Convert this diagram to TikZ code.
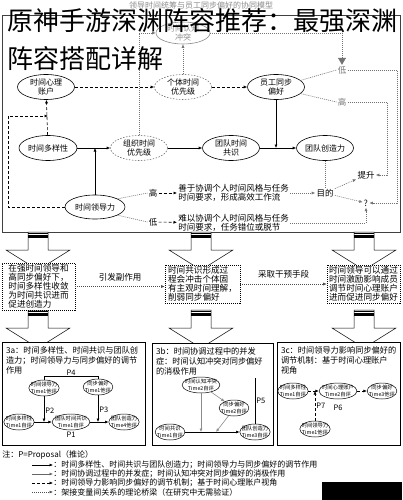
\documentclass[tikz,border=0pt]{standalone}
\usepackage{fontspec}
\setmainfont{Noto Sans CJK SC}
\usetikzlibrary{shapes.geometric,arrows.meta,positioning,calc}

\tikzset{
  ell/.style={ellipse, draw, line width=0.6pt, minimum width=57pt, minimum height=25pt,
    inner xsep=0pt, inner ysep=-1pt, align=center, font=\fontsize{8}{9.5}\selectfont},
  dell/.style={ell, draw=black!55, dash pattern=on 1.5pt off 1.5pt},
  sell/.style={ellipse, draw, line width=0.5pt, minimum height=16pt, inner xsep=-2.5pt,
    inner ysep=-1.5pt, align=center, font=\fontsize{5.3}{6.2}\selectfont},
  lab/.style={font=\fontsize{8.5}{9.5}\selectfont, inner sep=1pt},
  lab2/.style={font=\fontsize{7.5}{8}\selectfont, inner sep=1pt},
  lab3/.style={font=\fontsize{8}{9}\selectfont, inner sep=0pt},
  dotline/.style={draw=black!55, dash pattern=on 1pt off 1pt, line width=0.6pt},
  dashline/.style={dash pattern=on 3pt off 2pt, line width=0.6pt},
  arr/.style={-{Latex[length=3.5pt,width=3pt]}},
  stepbox/.style={draw, fill=white, dash pattern=on 1pt off 1pt, line width=0.6pt, align=left,
    font=\fontsize{8.6}{9}\selectfont, inner xsep=1.5pt, inner ysep=1pt},
  panel/.style={draw, fill=white, line width=0.6pt},
  ptext/.style={font=\fontsize{8.2}{9.7}\selectfont, align=left, inner xsep=4pt, inner ysep=5pt},
  ttl/.style={font=\fontsize{26}{26}\selectfont, inner sep=0pt},
}

\begin{document}
\begin{tikzpicture}[x=1pt,y=-1pt,line width=0.6pt]
    \useasboundingbox (0,0) rectangle (402,500);

    % 模型标题
    \node[font=\fontsize{8}{9}\selectfont, text=black!45] (subt) at (201,5) {领导时间统筹与员工同步偏好的协同模型};

    % 上部框
    \draw[draw=black!75] (2,15) rectangle (400,232);

    % 上部节点
    \node[ell, draw=black!45, text=black!45, minimum width=54pt, minimum height=22pt] (conf) at (183,33) {时间认知\\冲突};
    \node[ell] (acct) at (46,87) {时间心理\\账户};
    \node[dell] (indiv) at (183,87) {个体时间\\优先级};
    \node[ell] (sync) at (276,87) {员工同步\\偏好};
    \node[ell, minimum width=58pt] (div) at (48,148) {时间多样性};
    \node[dell] (org) at (139,148) {组织时间\\优先级};
    \node[ell] (cons) at (231,148) {团队时间\\共识};
    \node[ell] (crea) at (325,148) {团队创造力};
    \node[ell, minimum width=60pt, minimum height=24pt] (lead) at (95,207) {时间领导力};

    \node[lab] (hi) at (153,193) {高};
    \node[lab] (lo) at (153,222) {低};
    \node[lab, align=left, anchor=west] (hitxt) at (177,193) {善于协调个人时间风格与任务\\时间要求，形成高效工作流};
    \node[lab, align=left, anchor=west] (lotxt) at (177,223) {难以协调个人时间风格与任务\\时间要求，任务错位或脱节};
    \node[lab] (goal) at (325,193) {目的};
    \node[lab] (up) at (366,175) {提升};
    \node[lab] (q) at (366,203) {?};
    \node[lab, text=black!55] (lowA) at (342,70) {低};
    \node[lab, text=black!55] (highA) at (342,102) {高};

    % 上部连线
    \draw[dashline, arr] (acct) -- (indiv);
    \draw[dashline, arr] (indiv) -- (sync);
    \draw[dotline, arr] (indiv) -- (conf);
    \draw[dotline, arr] (org.north) |- (conf.west);
    \draw[dotline, -{Triangle[length=7pt,width=8pt]}] (conf.east) -| (lowA.north);
    \draw[dotline] (sync.15) -- (lowA.west);
    \draw[dotline] (sync.-15) -- (highA.west);

    \coordinate (rA) at (397,0);
    \coordinate (rB) at (387,0);
    \draw[dotline, arr] (lowA.east) -- (lowA.east -| rA) -- (q.east -| rA) -- (q.east);
    \draw[dotline, arr] (highA.east) -- (highA.east -| rB) -- (up.east -| rB) -- (up.east);

    \draw[arr] (div) -- (org);
    \draw[arr] (org) -- (cons);
    \draw[arr] (cons) -- (crea);
    \draw[arr] (sync.south) -- (sync.south |- crea.west);
    \draw[arr] (lead.north) -- (lead.north |- div.east);
    \draw[dashline, arr] (div) -- (acct);
    \coordinate (lp) at (8,116);
    \draw[dashline, arr] (lead.west) -| (lp) -- (lp -| div.north);

    \draw[dotline] (crea) -- (goal);
    \draw[dotline] (lead.20) -- (hi.west);
    \draw[dotline] (lead.-20) -- (lo.west);
    \draw[dashline, arr] (hi) -- (hitxt);
    \draw[dashline, arr] (lo) -- (lotxt);
    \draw[dotline, arr] (hitxt) -- (goal);
    \draw[dotline, arr] (goal) -- (up);
    \draw[dotline, arr] (goal) -- (q);
    \draw[dotline, arr] (lotxt.east) -| (q.south);

    % 粗箭头
    \foreach \bx in {38,201,364} {
      \foreach \by in {232,310} {
        \draw[fill=white, line width=0.5pt] (\bx-10,\by) -- (\bx-10,\by+18) -- (\bx-32,\by+18)
          -- (\bx,\by+38) -- (\bx+32,\by+18) -- (\bx+10,\by+18) -- (\bx+10,\by) -- cycle;
        \fill (\bx-10,\by+0.8) rectangle (\bx+10,\by+2.2);
        \fill (\bx-10,\by+3.2) rectangle (\bx+10,\by+5.8);
      }
    }

    % 中部三框
    \node[stepbox, minimum width=73pt, minimum height=47pt] (s1) at (38.5,286.5) {在强时间领导和\\高同步偏好下，\\时间多样性收敛\\为时间共识进而\\促进创造力};
    \node[stepbox, minimum width=75pt, minimum height=38pt] (s2) at (202.5,284) {时间共识形成过\\程会冲击个体固\\有主观时间理解，\\削弱同步偏好};
    \node[stepbox, minimum width=73pt, minimum height=38pt] (s3) at (363.5,284) {时间领导可以通过\\时间激励影响成员\\调节时间心理账户\\进而促进同步偏好};
    \draw[dotline, draw=black!70, arr] (s1.east) -- node[lab, above=4pt] (fx1) {引发副作用} (s1.east -| s2.west);
    \draw[dotline, draw=black!70, arr] (s2.east) -- node[lab, above=4pt] (fx2) {采取干预手段} (s3.west);

    % 下部三框
    \node[panel, minimum width=143pt, minimum height=103pt] (pa) at (73.5,393.5) {};
    \node[panel, minimum width=121pt, minimum height=102pt] (pb) at (212.5,394) {};
    \node[panel, minimum width=123pt, minimum height=103pt] (pc) at (338.5,393.5) {};
    \node[ptext, anchor=north west] (pa-t) at (pa.north west) {3a：时间多样性、时间共识与团队创\\造力；时间领导力与同步偏好的调节\\作用};
    \node[ptext, anchor=north west] (pb-t) at (pb.north west) {3b：时间协调过程中的并发\\症：时间认知冲突对同步偏好\\的消极作用};
    \node[ptext, anchor=north west] (pc-t) at (pc.north west) {3c：时间领导力影响同步偏好的\\调节机制：基于时间心理账户\\视角};

    % 3a
    \node[sell] (a-lead) at (44,388) {时间领导力\\Time1他评};
    \node[sell] (a-sync) at (98,387) {同步偏好\\Time1他评};
    \node[sell] (a-div) at (19,422) {时间多样性\\Time1自评};
    \node[sell] (a-cons) at (71,422) {团队时间共识\\Time1自评};
    \node[sell] (a-crea) at (124,422) {团队创造力\\Time4他评};
    \draw[arr] (a-div) -- (a-cons);
    \draw[arr] (a-cons) -- (a-crea);
    \draw[arr] (a-lead.south) -- node[lab2, right, pos=0.55] (p2) {P2} (a-lead.south |- a-div.east);
    \draw[arr] (a-sync.south) -- node[lab2, right, pos=0.55] (p3) {P3} (a-sync.south |- a-cons.east);
    \draw (a-lead.north) -- ++(0,-3) -| node[lab2, pos=0.25, above] (p4) {P4} (a-sync.north);
    \node[lab2, below=0pt of a-cons] (p1) {P1};

    % 3b
    \node[sell] (b-conf) at (201,385) {时间认知冲突\\Time2自评};
    \node[sell] (b-sync) at (234,408) {同步偏好\\Time2自评};
    \node[sell] (b-cons) at (170,432) {时间共识\\Time1自评};
    \node[sell] (b-crea) at (255,432) {团队创造力\\Time3自评};
    \draw[arr] (b-cons) -- (b-crea);
    \draw[arr, draw=black!45] (b-conf) -- (b-sync);
    \draw[arr, draw=black!45] (b-conf.south) -- (b-conf.south |- b-cons.east);
    \coordinate (b-hit) at (216,432);
    \draw[arr, draw=black!45] (b-sync.235) -- (b-hit);
    \coordinate (p5top) at (255,378);
    \draw (b-crea.north) -- node[lab2, right] (p5) {P5} (p5top);

    % 3c
    \node[sell] (c-div) at (293,391) {时间多样性\\Time1自评};
    \node[sell] (c-acct) at (338,391) {时间心理账户\\Time2自评};
    \node[sell] (c-sync) at (382,391) {同步偏好\\Time3他评};
    \node[sell] (c-lead) at (315,429) {时间领导力\\Time1他评};
    \draw[dashline, arr] (c-div) -- (c-acct);
    \draw[dashline, arr] (c-acct) -- (c-sync);
    \draw[dashline, arr] (c-lead.north) -- node[lab2, right] (p7) {P7} (c-lead.north |- c-div.east);
    \node[lab2, below=4pt of c-acct] (p6) {P6};

    % 图例
    \node[lab3, anchor=west] (note) at (2,455) {注：P=Proposal（推论）};
    \node[lab3, anchor=west] (lg1) at (53,465) {：时间多样性、时间共识与团队创造力；时间领导力与同步偏好的调节作用};
    \node[lab3, anchor=west] (lg2) at (53,474) {：时间协调过程中的并发症；时间认知冲突对同步偏好的消极作用};
    \node[lab3, anchor=west] (lg3) at (53,483) {：时间领导力影响同步偏好的调节机制；基于时间心理账户视角};
    \node[lab3, anchor=west] (lg4) at (53,492) {：架接变量间关系的理论桥梁（在研究中无需验证）};
    \coordinate (lg1s) at (32,465);
    \coordinate (lg2s) at (32,474);
    \coordinate (lg3s) at (32,483);
    \coordinate (lg4s) at (32,492);
    \draw[arr] (lg1s) -- (lg1.west);
    \draw[arr, draw=black!60] (lg2s) -- (lg2.west);
    \draw[dashline, arr] (lg3s) -- (lg3.west);
    \draw[dotline, draw=black!70, arr] (lg4s) -- (lg4.west);

    % 右下角遮块
    \fill (322,482) rectangle (402,500);

    % 大标题
    \node[ttl, anchor=west] (ttl1) at (7,21) {原神手游深渊阵容推荐：最强深渊};
    \node[ttl, anchor=west] (ttl2) at (7,59) {阵容搭配详解};
\end{tikzpicture}
\end{document}
